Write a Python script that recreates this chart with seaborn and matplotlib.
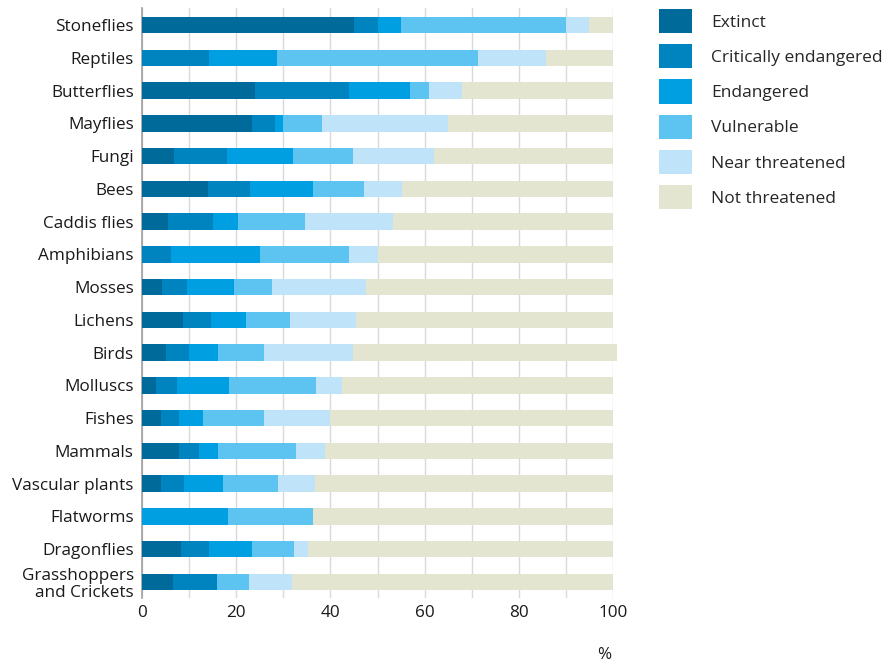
import numpy as np
import pandas as pd
import matplotlib
matplotlib.use("Agg")
import matplotlib.pyplot as plt
import seaborn as sns
from matplotlib.patches import Patch

categories = ["Stoneflies", "Reptiles", "Butterflies", "Mayflies", "Fungi", "Bees",
              "Caddis flies", "Amphibians", "Mosses", "Lichens", "Birds", "Molluscs",
              "Fishes", "Mammals", "Vascular plants", "Flatworms", "Dragonflies",
              "Grasshoppers\nand Crickets"]

extinct        = [45.0, 0.0, 24.0, 23.3, 6.9, 14.0, 5.6, 0.0, 4.2, 8.6, 5.0, 3.0, 4.0, 7.9, 4.0, 0.0, 8.3, 6.6]
critically_end = [5.0, 14.3, 20.0, 5.0, 11.1, 9.0, 9.5, 6.2, 5.3, 6.0, 5.0, 4.4, 3.9, 4.1, 4.9, 0.0, 6.0, 9.4]
endangered     = [5.0, 14.3, 13.0, 1.7, 14.0, 13.2, 5.2, 18.8, 10.0, 7.4, 6.1, 11.1, 5.1, 4.1, 8.2, 18.2, 9.0, 0.0]
vulnerable     = [35.0, 42.8, 4.0, 8.3, 12.8, 10.9, 14.4, 18.9, 8.2, 9.4, 9.9, 18.4, 13.0, 16.7, 11.8, 18.1, 8.9, 6.7]
near_threat    = [5.0, 14.3, 7.0, 26.7, 17.2, 8.0, 18.5, 6.1, 19.8, 14.1, 18.8, 5.6, 13.9, 6.0, 7.9, 0.0, 3.1, 9.2]
not_threat     = [5.0, 14.3, 32.0, 35.0, 38.0, 45.0, 46.8, 50.0, 52.5, 54.5, 56.0, 57.5, 60.1, 61.2, 63.2, 63.7, 64.7, 68.1]

series_names = ["Extinct", "Critically endangered", "Endangered", "Vulnerable",
                "Near threatened", "Not threatened"]
colors = ["#006a9b", "#0084c0", "#009fe2", "#5dc4f1", "#bfe3f8", "#e4e5d0"]
x_ticks = [0, 20, 40, 60, 80, 100]

series = [extinct, critically_end, endangered, vulnerable, near_threat, not_threat]
df = pd.DataFrame({"category": categories})
for name, vals in zip(series_names, series):
    df[name] = vals
cum = df[series_names].cumsum(axis=1)

sns.set_theme(style="white")
plt.rcParams["font.family"] = ["Open Sans", "DejaVu Sans"]

fig = plt.figure(figsize=(8.84, 6.63), dpi=100)
ax = fig.add_axes([142/884, 1 - 598/663, (613 - 142)/884, (598 - 8)/663])

# draw from the outermost cumulative sum inward
for name, col in reversed(list(zip(series_names, colors))):
    sns.barplot(x=cum[name], y=df["category"], orient="h", color=col,
                width=0.5, ax=ax, saturation=1, linewidth=0, zorder=3)
for p in ax.patches:
    p.set_clip_on(False)

ax.set_xlim(0, 100)
ax.set_ylim(17.49, -0.52)
ax.set_xticks(x_ticks)
ax.set_xticks(np.arange(0, 101, 10), minor=True)
ax.grid(axis="x", which="both", color="#d9d9d9", linewidth=1, zorder=0)
ax.set_axisbelow(True)
ax.set_xlabel("")
ax.set_ylabel("")
for s in ["top", "right", "bottom"]:
    ax.spines[s].set_visible(False)
ax.spines["left"].set_color("#a0a0a0")
ax.spines["left"].set_linewidth(1.2)
ax.tick_params(axis="y", length=0, pad=6, labelsize=12.3, labelcolor="#1a1a1a")
ax.tick_params(axis="x", which="both", length=0, pad=5, labelsize=12.3, labelcolor="#1a1a1a")
for lab in ax.get_yticklabels():
    lab.set_horizontalalignment("right")
    lab.set_multialignment("right")
    lab.set_linespacing(1.1)

handles = [Patch(facecolor=c, edgecolor="none") for c in colors]
fig.legend(handles, series_names, loc="upper left", bbox_to_anchor=(659/884, 1 - 9/663),
           frameon=False, fontsize=12.5, handlelength=1.9, handleheight=1.76,
           labelspacing=0.64, handletextpad=1.1, borderaxespad=0, borderpad=0)

fig.text(604/884, 1 - 655/663, "%", fontsize=12.3, ha="center", va="center", color="#1a1a1a")

fig.savefig("out.png", dpi=100)
